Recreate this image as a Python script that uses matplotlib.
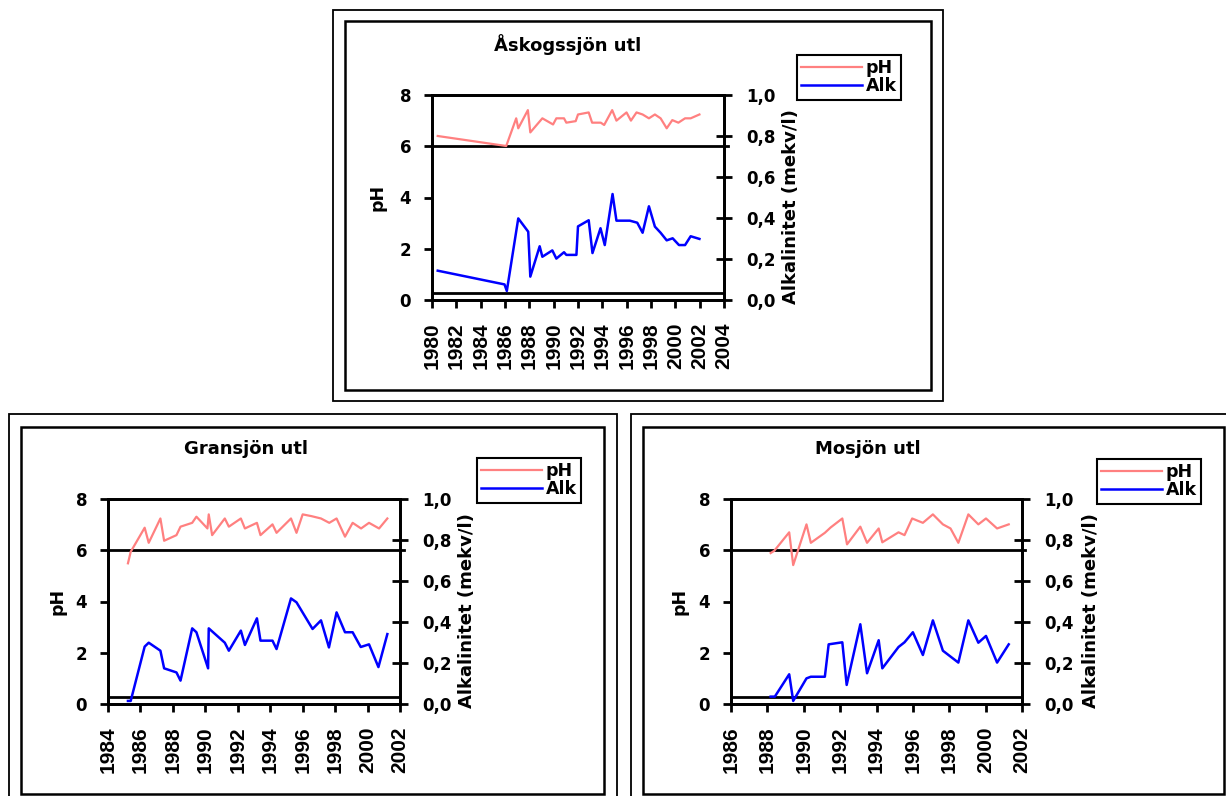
import matplotlib
matplotlib.use("Agg")
import matplotlib.pyplot as plt
from matplotlib.patches import Rectangle
from matplotlib.ticker import FuncFormatter

plt.rcParams['font.family'] = ['DejaVu Sans']
plt.rcParams['font.weight'] = 'bold'

W, H = 1226, 796
PINK = '#FF8080'
BLUE = '#0000FF'

# --- data ---
ask_ph_year = [1980.47, 1986.1, 1986.92, 1987.09, 1987.88, 1988.08, 1989.07, 1989.95,
               1990.22, 1990.85, 1991.04, 1991.81, 1992.0, 1992.88, 1993.16, 1993.87,
               1994.15, 1994.81, 1995.16, 1995.99, 1996.35, 1996.81, 1997.31, 1997.83,
               1998.32, 1998.79, 1999.29, 1999.75, 2000.25, 2000.8, 2001.26, 2001.98]
ask_ph = [6.40, 6.01, 7.09, 6.70, 7.41, 6.54, 7.09, 6.85, 7.09, 7.09, 6.92, 6.98, 7.24,
          7.32, 6.92, 6.92, 6.83, 7.41, 7.0, 7.32, 7.0, 7.32, 7.24, 7.09, 7.24, 7.09,
          6.70, 7.02, 6.92, 7.09, 7.09, 7.24]
ask_alk_year = [1980.47, 1985.96, 1986.15, 1987.09, 1987.91, 1988.08, 1988.85, 1989.07,
                1989.89, 1990.22, 1990.85, 1991.04, 1991.87, 1992.0, 1992.88, 1993.19,
                1993.85, 1994.2, 1994.84, 1995.16, 1996.26, 1996.87, 1997.31, 1997.83,
                1998.32, 1998.79, 1999.29, 1999.78, 2000.3, 2000.8, 2001.26, 2001.98]
ask_alk = [0.143, 0.076, 0.044, 0.398, 0.333, 0.114, 0.262, 0.211, 0.242, 0.202, 0.233,
           0.220, 0.220, 0.359, 0.389, 0.229, 0.350, 0.268, 0.517, 0.387, 0.387, 0.377,
           0.328, 0.457, 0.358, 0.328, 0.291, 0.301, 0.268, 0.268, 0.311, 0.298]

gran_ph_year = [1985.23, 1985.40, 1986.26, 1986.51, 1987.23, 1987.46, 1988.22, 1988.47,
                1989.19, 1989.45, 1990.13, 1990.21, 1990.42, 1991.20, 1991.45, 1992.19,
                1992.44, 1993.18, 1993.40, 1994.14, 1994.39, 1995.28, 1995.62, 1996.0,
                1996.55, 1997.13, 1997.64, 1998.09, 1998.61, 1999.08, 1999.60, 2000.09,
                2000.71, 2001.22]
gran_ph = [5.49, 5.94, 6.88, 6.29, 7.24, 6.37, 6.59, 6.92, 7.07, 7.31, 6.85, 7.40, 6.59,
           7.24, 6.92, 7.24, 6.85, 7.07, 6.59, 7.01, 6.68, 7.24, 6.68, 7.40, 7.33, 7.24,
           7.07, 7.24, 6.53, 7.07, 6.85, 7.07, 6.85, 7.24]
gran_alk_year = [1985.23, 1985.40, 1986.26, 1986.51, 1987.23, 1987.46, 1988.22, 1988.47,
                 1989.19, 1989.45, 1990.17, 1990.21, 1991.20, 1991.45, 1992.19, 1992.44,
                 1993.18, 1993.40, 1994.14, 1994.39, 1995.28, 1995.62, 1996.61, 1997.13,
                 1997.62, 1998.09, 1998.61, 1999.08, 1999.58, 2000.09, 2000.67, 2001.22]
gran_alk = [0.015, 0.015, 0.280, 0.299, 0.260, 0.174, 0.154, 0.114, 0.369, 0.350, 0.174,
            0.369, 0.299, 0.260, 0.358, 0.288, 0.418, 0.309, 0.309, 0.268, 0.515, 0.496,
            0.366, 0.408, 0.276, 0.447, 0.350, 0.350, 0.278, 0.291, 0.180, 0.341]

mos_ph_year = [1988.18, 1988.38, 1989.20, 1989.42, 1990.15, 1990.39, 1991.16, 1991.48,
               1992.12, 1992.38, 1993.11, 1993.48, 1994.12, 1994.32, 1995.21, 1995.54,
               1995.96, 1996.55, 1997.10, 1997.65, 1998.07, 1998.50, 1999.05, 1999.60,
               2000.02, 2000.63, 2001.27]
mos_ph = [5.89, 5.98, 6.70, 5.42, 7.01, 6.29, 6.68, 6.89, 7.24, 6.23, 6.92, 6.29, 6.85,
          6.31, 6.70, 6.59, 7.24, 7.07, 7.40, 7.01, 6.85, 6.29, 7.40, 7.01, 7.24, 6.85, 7.01]
mos_alk_year = [1988.18, 1988.41, 1989.20, 1989.42, 1990.15, 1990.39, 1991.16, 1991.37,
                1992.12, 1992.36, 1993.11, 1993.48, 1994.12, 1994.32, 1995.21, 1995.54,
                1996.0, 1996.55, 1997.10, 1997.65, 1998.50, 1999.05, 1999.60, 2000.02,
                2000.63, 2001.27]
mos_alk = [0.036, 0.036, 0.145, 0.015, 0.125, 0.133, 0.133, 0.291, 0.301, 0.093, 0.389,
           0.150, 0.311, 0.174, 0.278, 0.301, 0.350, 0.239, 0.408, 0.260, 0.202, 0.408,
           0.299, 0.332, 0.202, 0.291]

ph_limit = 6.0
alk_limit = 0.036

titles = ['Åskogssjön utl', 'Gransjön utl', 'Mosjön utl']
xlims = [(1980, 2004), (1984, 2002), (1986, 2002)]


def fx(px):
    return px / W


def fy(py):
    return 1 - py / H


fig = plt.figure(figsize=(W / 100, H / 100), dpi=100)

# frames (outer, inner) in pixels: x0, y0, x1, y1
frames = [
    ((333, 10, 943, 401), (345, 21, 931, 390)),
    ((9, 414, 617, 805), (21, 427, 604, 794)),
    ((631, 414, 1235, 805), (643, 427, 1224, 794)),
]
for outer, inner in frames:
    for (x0, y0, x1, y1), lw in ((outer, 1.3), (inner, 1.8)):
        fig.add_artist(Rectangle((fx(x0), fy(y1)), (x1 - x0) / W, (y1 - y0) / H,
                                 transform=fig.transFigure, fill=False,
                                 edgecolor='black', lw=lw))

# layout per panel: axes box, title pos, legend anchor, left/right label x
panels = [
    dict(ax=(432, 95, 724, 300), title=(568, 45), leg=(797, 55), phx=378, alkx=791),
    dict(ax=(108, 499, 400, 704), title=(246, 449), leg=(477, 458), phx=57, alkx=467),
    dict(ax=(731, 499, 1022, 704), title=(868, 449), leg=(1097, 459), phx=680, alkx=1091),
]
series = [
    (ask_ph_year, ask_ph, ask_alk_year, ask_alk),
    (gran_ph_year, gran_ph, gran_alk_year, gran_alk),
    (mos_ph_year, mos_ph, mos_alk_year, mos_alk),
]

comma = FuncFormatter(lambda v, p: f'{v:.1f}'.replace('.', ','))

for i, p in enumerate(panels):
    x0, y0, x1, y1 = p['ax']
    ax = fig.add_axes([fx(x0), fy(y1), (x1 - x0) / W, (y1 - y0) / H])
    ax2 = ax.twinx()
    ph_year, ph, alk_year, alk = series[i]

    ax.axhline(ph_limit, xmin=0, xmax=1.012, color='black', lw=2, clip_on=False)
    ax2.axhline(alk_limit, color='black', lw=2)
    l1, = ax.plot(ph_year, ph, color=PINK, lw=1.6)
    l2, = ax2.plot(alk_year, alk, color=BLUE, lw=1.8)

    ax.set_xlim(*xlims[i])
    ax.set_ylim(0, 8)
    ax2.set_ylim(0, 1)
    ax.set_xticks(range(xlims[i][0], xlims[i][1] + 1, 2))
    ax.set_yticks([0, 2, 4, 6, 8])
    ax2.set_yticks([0, 0.2, 0.4, 0.6, 0.8, 1.0])
    ax2.yaxis.set_major_formatter(comma)

    for a in (ax, ax2):
        for s in a.spines.values():
            s.set_linewidth(2)
    ax.tick_params(axis='x', direction='out', length=6, width=2, labelrotation=90, pad=10)
    ax.tick_params(axis='y', direction='out', length=6, width=2, labelsize=12, pad=9)
    ax2.tick_params(axis='y', direction='inout', length=12, width=2, labelsize=12, pad=10)
    for lab in ax.get_xticklabels():
        lab.set_fontfamily('Liberation Sans')
        lab.set_fontsize(15)
        lab.set_fontweight('bold')
    for lab in ax.get_yticklabels() + ax2.get_yticklabels():
        lab.set_fontweight('bold')

    cy = (y0 + y1) / 2
    fig.text(fx(p['phx']), fy(cy), 'pH', rotation=90, ha='center', va='center',
             fontsize=12.5, fontweight='bold')
    fig.text(fx(p['alkx']), fy(cy + 9), 'Alkalinitet (mekv/l)', rotation=90,
             ha='center', va='center', fontsize=13, fontweight='bold')
    fig.text(fx(p['title'][0]), fy(p['title'][1]), titles[i], ha='center', va='center',
             fontsize=13, fontweight='bold')

    lx, ly = p['leg']
    leg = ax2.legend([l1, l2], ['pH', 'Alk'], loc='upper left',
                     bbox_to_anchor=(fx(lx), fy(ly)), bbox_transform=fig.transFigure,
                     borderaxespad=0, frameon=True, fancybox=False, framealpha=1,
                     edgecolor='black', handlelength=3.5, handletextpad=0.2,
                     borderpad=0.25, labelspacing=0.0,
                     prop={'weight': 'bold', 'size': 12.5})
    leg.get_frame().set_linewidth(1.5)

fig.savefig('out.png', dpi=100)
